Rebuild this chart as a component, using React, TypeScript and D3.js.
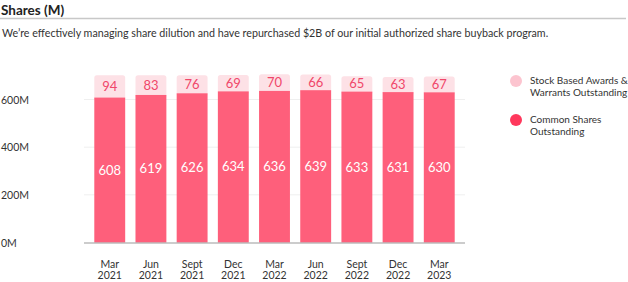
import { useEffect, useRef } from 'react';
import * as d3 from 'd3';

const quarters = ['Mar', 'Jun', 'Sept', 'Dec', 'Mar', 'Jun', 'Sept', 'Dec', 'Mar'];
const years = ['2021', '2021', '2021', '2021', '2022', '2022', '2022', '2022', '2023'];
const commonShares = [608, 619, 626, 634, 636, 639, 633, 631, 630];
const stockAwards = [94, 83, 76, 69, 70, 66, 65, 63, 67];
const yTicks = [0, 200, 400, 600];
const legendItems = ['Stock Based Awards &|Warrants Outstanding', 'Common Shares|Outstanding'];

const W = 628;
const H = 282;
const FONT = 'Lato, "Noto Sans", sans-serif';

export default function App() {
  const svgRef = useRef<SVGSVGElement>(null);

  useEffect(() => {
    if (!svgRef.current) return;
    const svg = d3.select(svgRef.current);
    svg.selectAll('*').remove();

    const x = d3
      .scaleBand<number>()
      .domain(quarters.map((_, i) => i))
      .range([84, 465])
      .paddingInner(0.25)
      .paddingOuter(0.25);

    const y = d3.scaleLinear().domain([0, 600]).range([242.5, 99.5]);

    // ── Header ──
    svg.append('text')
      .attr('x', 1).attr('y', 15)
      .attr('font-family', FONT).attr('font-size', 13.5).attr('font-weight', 700)
      .attr('fill', '#222').text('Shares (M)');
    svg.append('line')
      .attr('x1', 0).attr('x2', 626).attr('y1', 18.5).attr('y2', 18.5)
      .attr('stroke', '#c8c8c8').attr('stroke-width', 1.5);
    svg.append('text')
      .attr('x', 2).attr('y', 37)
      .attr('font-family', FONT).attr('font-size', 10.7)
      .attr('fill', '#333')
      .text("We\u2019re effectively managing share dilution and have repurchased $2B of our initial authorized share buyback program.");

    // ── Grid + y labels ──
    svg.selectAll('line.grid').data(yTicks.filter((t) => t > 0)).enter().append('line')
      .attr('class', 'grid')
      .attr('x1', 84).attr('x2', 465)
      .attr('y1', (d) => y(d)).attr('y2', (d) => y(d))
      .attr('stroke', '#efefef');
    svg.selectAll('text.ytick').data(yTicks).enter().append('text')
      .attr('class', 'ytick')
      .attr('x', 1).attr('y', (d) => y(d) + 4)
      .attr('font-family', FONT).attr('font-size', 10.5).attr('fill', '#333')
      .text((d) => `${d}M`);

    // ── Bars ──
    const bw = x.bandwidth();
    const g = svg.selectAll('g.bar').data(commonShares).enter().append('g').attr('class', 'bar');
    g.append('rect')
      .attr('x', (_, i) => x(i)!)
      .attr('y', (d, i) => y(d + stockAwards[i]))
      .attr('width', bw)
      .attr('height', (d, i) => y(d) - y(d + stockAwards[i]) + 3)
      .attr('rx', 2.5)
      .attr('fill', '#fde1e6');
    g.append('rect')
      .attr('x', (_, i) => x(i)!)
      .attr('y', (d) => y(d))
      .attr('width', bw)
      .attr('height', (d) => y(0) - y(d))
      .attr('fill', '#fe5f7b');
    g.append('text')
      .attr('x', (_, i) => x(i)! + bw / 2)
      .attr('y', (d) => (y(0) + y(d)) / 2 + 4.5)
      .attr('text-anchor', 'middle')
      .attr('font-family', FONT).attr('font-size', 13).attr('fill', '#fff')
      .text((d) => d);
    g.append('text')
      .attr('x', (_, i) => x(i)! + bw / 2)
      .attr('y', (d, i) => (y(d) + y(d + stockAwards[i])) / 2 + 4.5)
      .attr('text-anchor', 'middle')
      .attr('font-family', FONT).attr('font-size', 13).attr('fill', '#f0476a')
      .text((_, i) => stockAwards[i]);

    // ── Baseline ──
    svg.append('line')
      .attr('x1', 84).attr('x2', 465).attr('y1', y(0) + 0.5).attr('y2', y(0) + 0.5)
      .attr('stroke', '#9a9a9a').attr('stroke-width', 1.2);

    // ── X labels ──
    const xl = svg.selectAll('text.xlab').data(quarters).enter().append('text')
      .attr('class', 'xlab')
      .attr('text-anchor', 'middle')
      .attr('font-family', FONT).attr('font-size', 10.5).attr('fill', '#333');
    xl.append('tspan').attr('x', (_, i) => x(i)! + bw / 2).attr('y', 267.5).text((d) => d);
    xl.append('tspan').attr('x', (_, i) => x(i)! + bw / 2).attr('y', 279).text((_, i) => years[i]);

    // ── Legend ──
    const legendColors = ['#fcc4cf', '#ff385c'];
    const lg = svg.selectAll('g.legend').data(legendItems).enter().append('g')
      .attr('class', 'legend')
      .attr('transform', (_, i) => `translate(0, ${i * 39})`);
    lg.append('circle').attr('cx', 516).attr('cy', 81).attr('r', 6)
      .attr('fill', (_, i) => legendColors[i]);
    const lt = lg.append('text')
      .attr('font-family', FONT).attr('font-size', 10).attr('fill', '#333');
    lt.append('tspan').attr('x', 530).attr('y', 84).text((d) => d.split('|')[0]);
    lt.append('tspan').attr('x', 530).attr('y', 96).text((d) => d.split('|')[1]);
  }, []);

  return (
    <svg
      ref={svgRef}
      width={W}
      height={H}
      style={{ position: 'absolute', top: 0, left: 0, display: 'block', background: '#fff' }}
    />
  );
}
